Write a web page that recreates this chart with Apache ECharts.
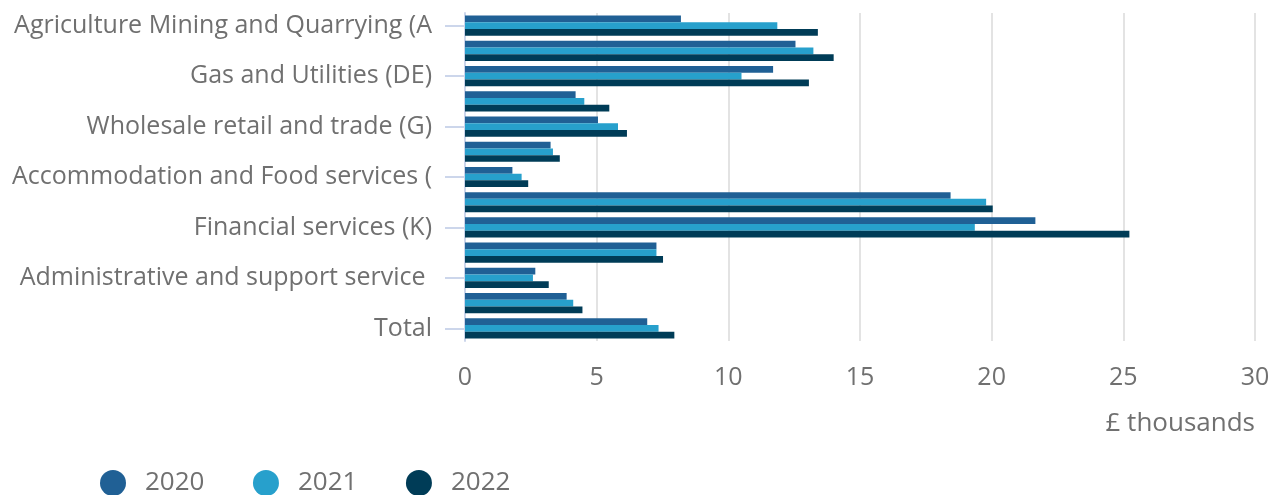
<!DOCTYPE html>
<html>
<head>
<meta charset="utf-8">
<script src="https://cdn.jsdelivr.net/npm/echarts@6/dist/echarts.min.js"></script>
<style>
html,body{margin:0;padding:0;background:#fff;}
#chart{width:1276px;height:495px;}
</style>
</head>
<body>
<div id="chart"></div>
<script>
const categories = [
  'Agriculture Mining and Quarrying (AB)',
  'Manufacturing (C)',
  'Gas and Utilities (DE)',
  'Construction (F)',
  'Wholesale retail and trade (G)',
  'Transport and storage (H)',
  'Accommodation and Food services (I)',
  'Information and communication (J)',
  'Financial services (K)',
  'Professional scientific and technical (M)',
  'Administrative and support service activities (N)',
  'Other services (RST)',
  'Total'
];
const seriesNames = ['2020', '2021', '2022'];
const values2020 = [8.2, 12.55, 11.7, 4.2, 5.05, 3.25, 1.8, 18.44, 21.66, 7.27, 2.67, 3.86, 6.92];
const values2021 = [11.86, 13.23, 10.5, 4.53, 5.81, 3.34, 2.15, 19.79, 19.36, 7.27, 2.58, 4.11, 7.35];
const values2022 = [13.4, 14.0, 13.06, 5.48, 6.15, 3.6, 2.4, 20.04, 25.23, 7.52, 3.18, 4.46, 7.95];
const xTicks = [0, 5, 10, 15, 20, 25, 30];
const colors = ['#206095', '#27a0cc', '#003c57'];
const axisUnit = '£ thousands';

const chart = echarts.init(document.getElementById('chart'), null, {renderer: 'canvas'});
const font = '"Open Sans", sans-serif';
const textGray = '#707070';
const dataSets = [values2020, values2021, values2022];

chart.setOption({
  animation: false,
  color: colors,
  title: {
    text: axisUnit,
    right: 21,
    top: 411,
    padding: 0,
    textStyle: {fontFamily: font, fontSize: 26, fontWeight: 'normal', color: textGray}
  },
  legend: {
    left: 100,
    top: 470,
    icon: 'circle',
    itemWidth: 26,
    itemHeight: 26,
    itemGap: 48.5,
    padding: 0,
    textStyle: {fontFamily: font, fontSize: 26, color: textGray, padding: [3, 0, 0, 14]},
    data: seriesNames
  },
  grid: {left: 465, right: 21, top: 13, bottom: 154, containLabel: false},
  xAxis: {
    type: 'value',
    min: xTicks[0],
    max: xTicks[xTicks.length - 1],
    interval: xTicks[1] - xTicks[0],
    axisLine: {show: false},
    axisTick: {show: false},
    axisLabel: {fontFamily: font, fontSize: 25, color: textGray, margin: 24},
    splitLine: {show: true, lineStyle: {color: '#e3e3e3', width: 2}}
  },
  yAxis: {
    type: 'category',
    inverse: true,
    data: categories,
    axisLine: {show: true, lineStyle: {color: '#ccd6eb', width: 2}},
    axisTick: {show: true, alignWithLabel: true, interval: 1, length: 20, lineStyle: {color: '#ccd6eb', width: 2}},
    axisLabel: {
      interval: 1,
      fontFamily: font,
      fontSize: 25,
      color: textGray,
      margin: 33,
      width: 426.5,
      overflow: 'truncate',
      ellipsis: '',
      padding: [6, 0, 0, 0]
    }
  },
  series: seriesNames.map((name, i) => ({
    name: name,
    type: 'bar',
    data: dataSets[i],
    barGap: '0%',
    barCategoryGap: '20%',
    itemStyle: {color: colors[i]}
  }))
});
</script>
</body>
</html>
